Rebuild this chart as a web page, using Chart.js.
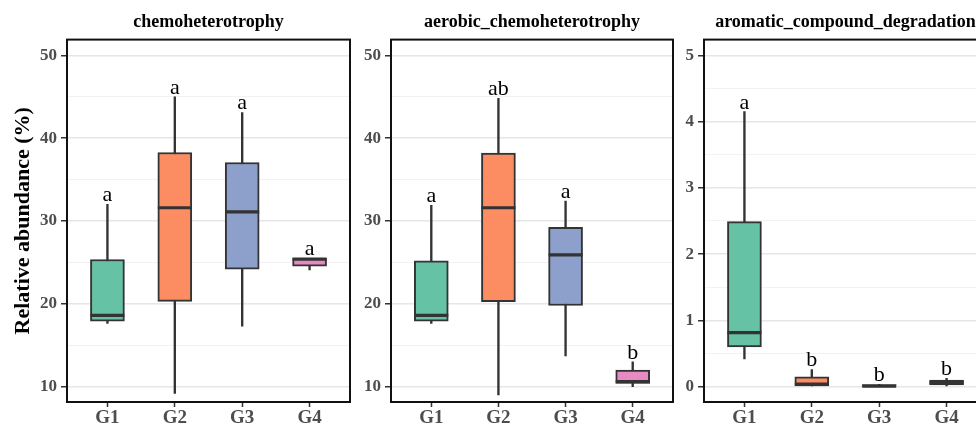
<!DOCTYPE html>
<html><head><meta charset="utf-8">
<script src="https://cdn.jsdelivr.net/npm/chart.js@4.4.1/dist/chart.umd.min.js"></script>
<style>
html,body{margin:0;padding:0;background:#fff;overflow:hidden;}
#wrap{position:relative;width:976px;height:424px;overflow:hidden;background:#fff;}
canvas{position:absolute;top:0;}
</style></head><body>
<div id="wrap">
<canvas id="c1" width="352" height="424" style="left:0px"></canvas>
<canvas id="c2" width="323" height="424" style="left:352px"></canvas>
<canvas id="c3" width="314" height="424" style="left:675px"></canvas>
</div>
<script>
// ---------- data ----------
const groups = ['G1', 'G2', 'G3', 'G4'];

// chemoheterotrophy
const chemoMin = [17.65, 9.2, 17.3, 24.1];
const chemoQ1  = [17.9, 20.3, 24.2, 24.55];
const chemoMed = [18.6, 31.6, 31.1, 25.4];
const chemoQ3  = [25.35, 38.27, 37.06, 25.5];
const chemoMax = [32.0, 45.0, 43.1, 25.5];
const chemoLetters = ['a', 'a', 'a', 'a'];

// aerobic_chemoheterotrophy
const aeroMin = [17.65, 9.0, 13.7, 10.0];
const aeroQ1  = [17.9, 20.27, 19.8, 10.4];
const aeroMed = [18.6, 31.6, 25.9, 10.6];
const aeroQ3  = [25.2, 38.2, 29.25, 12.0];
const aeroMax = [31.9, 44.8, 32.4, 13.0];
const aeroLetters = ['a', 'ab', 'a', 'b'];

// aromatic_compound_degradation
const aromMin = [0.42, 0.0, 0.0, 0.01];
const aromQ1  = [0.60, 0.0, 0.0, 0.025];
const aromMed = [0.816, 0.04, 0.01, 0.06];
const aromQ3  = [2.49, 0.15, 0.03, 0.10];
const aromMax = [4.15, 0.26, 0.035, 0.127];
const aromLetters = ['a', 'b', 'b', 'b'];

// y tick labels (major) per panel
const chemoTicks = [10, 20, 30, 40, 50];
const aeroTicks = [10, 20, 30, 40, 50];
const aromTicks = [0, 1, 2, 3, 4, 5];

// ---------- styling ----------
const fillColors = ['#66C2A5', '#FC8D62', '#8DA0CB', '#E78AC3'];
const SERIF = '"Liberation Serif", "Times New Roman", serif';
const DARK = '#333333';

function makePanel(id, p) {
  const isMajor = v => p.majorTicks.some(m => Math.abs(m - v) < 1e-9);
  const letterPlugin = {
    id: 'letters',
    afterDatasetsDraw(chart) {
      const {ctx, scales: {x, y}} = chart;
      ctx.save();
      ctx.font = '22px ' + SERIF;
      ctx.fillStyle = '#000';
      ctx.textAlign = 'center';
      ctx.textBaseline = 'alphabetic';
      p.letters.forEach((t, i) => {
        ctx.fillText(t, x.getPixelForValue(i + 1), y.getPixelForValue(p.max[i]) - 3);
      });
      ctx.restore();
    }
  };
  const framePlugin = {
    id: 'frame',
    afterDraw(chart) {
      const {ctx, chartArea: a} = chart;
      ctx.save();
      ctx.strokeStyle = '#111';
      ctx.lineWidth = 2;
      ctx.strokeRect(a.left, a.top, a.right - a.left, a.bottom - a.top);
      ctx.restore();
    }
  };
  return new Chart(document.getElementById(id), {
    type: 'bar',
    data: {
      datasets: [
        {
          type: 'scatter',
          data: groups.map((g, i) => ({x: i + 1, y: p.med[i]})),
          pointStyle: 'line',
          pointRadius: 17,
          pointHoverRadius: 17,
          pointBorderWidth: 3.2,
          pointBorderColor: DARK,
          pointBackgroundColor: DARK,
          order: 0
        },
        {
          type: 'bar',
          data: groups.map((g, i) => ({x: i + 1, y: [p.q1[i], p.q3[i]]})),
          backgroundColor: fillColors,
          borderColor: DARK,
          borderWidth: 2,
          borderSkipped: false,
          barThickness: 34,
          grouped: false,
          order: 1
        },
        {
          type: 'bar',
          data: groups.map((g, i) => ({x: i + 1, y: [p.min[i], p.max[i]]})),
          backgroundColor: DARK,
          borderWidth: 0,
          barThickness: 1.7,
          grouped: false,
          order: 2
        }
      ]
    },
    options: {
      responsive: false,
      animation: false,
      devicePixelRatio: 1,
      layout: {autoPadding: false, padding: {left: 0, right: 2, top: 0, bottom: 0}},
      plugins: {
        legend: {display: false},
        tooltip: {enabled: false},
        title: {
          display: true,
          text: p.title,
          fullSize: false,
          color: '#000',
          font: {family: SERIF, size: 18, weight: 'bold', lineHeight: 1.2},
          padding: {top: 12, bottom: 6}
        }
      },
      scales: {
        x: {
          type: 'linear',
          min: 0.4,
          max: 4.6,
          offset: false,
          afterBuildTicks: s => { s.ticks = groups.map((g, i) => ({value: i + 1})); },
          afterFit: s => { s.height = 22; s.paddingLeft = 0; s.paddingRight = 0; },
          ticks: {
            autoSkip: false,
            maxRotation: 0,
            padding: 0,
            color: '#4D4D4D',
            font: {family: SERIF, size: 19, weight: 'bold'},
            callback: v => groups[Math.round(v) - 1] || ''
          },
          grid: {
            offset: false,
            drawOnChartArea: false,
            drawTicks: true,
            tickLength: 5,
            tickColor: DARK,
            tickWidth: 1.5
          },
          border: {display: false}
        },
        y: {
          type: 'linear',
          min: p.yMin,
          max: p.yMax,
          beginAtZero: false,
          afterBuildTicks: s => {
            const out = [];
            for (let k = Math.ceil(p.yMin / p.step); k * p.step <= p.yMax + 1e-9; k++) {
              out.push({value: Math.round(k * p.step * 1000) / 1000});
            }
            s.ticks = out;
          },
          afterFit: s => { s.width = p.yWidth; s.paddingTop = 0; s.paddingBottom = 0; },
          ticks: {
            stepSize: p.step,
            autoSkip: false,
            padding: 4,
            color: '#4D4D4D',
            font: {family: SERIF, size: 17, weight: 'bold'},
            callback: v => isMajor(v) ? String(v) : ''
          },
          grid: {
            color: c => isMajor(c.tick ? c.tick.value : NaN) ? '#E6E6E6' : '#F2F2F2',
            lineWidth: c => isMajor(c.tick ? c.tick.value : NaN) ? 1.5 : 1,
            drawTicks: true,
            tickLength: 6,
            tickWidth: 1.5,
            tickColor: c => isMajor(c.tick ? c.tick.value : NaN) ? DARK : 'rgba(0,0,0,0)'
          },
          border: {display: false},
          title: {
            display: !!p.yTitle,
            text: p.yTitle || '',
            color: '#000',
            font: {family: SERIF, size: 22, weight: 'bold', lineHeight: 1.2},
            padding: {top: 10, bottom: 0}
          }
        }
      }
    },
    plugins: [letterPlugin, framePlugin]
  });
}

makePanel('c1', {
  title: 'chemoheterotrophy', yTitle: 'Relative abundance (%)', yWidth: 67,
  yMin: 8.15, yMax: 51.9, step: 5, majorTicks: chemoTicks,
  min: chemoMin, q1: chemoQ1, med: chemoMed, q3: chemoQ3, max: chemoMax, letters: chemoLetters
});
makePanel('c2', {
  title: 'aerobic_chemoheterotrophy', yTitle: null, yWidth: 39,
  yMin: 8.15, yMax: 51.9, step: 5, majorTicks: aeroTicks,
  min: aeroMin, q1: aeroQ1, med: aeroMed, q3: aeroQ3, max: aeroMax, letters: aeroLetters
});
makePanel('c3', {
  title: 'aromatic_compound_degradation', yTitle: null, yWidth: 29,
  yMin: -0.231, yMax: 5.237, step: 0.5, majorTicks: aromTicks,
  min: aromMin, q1: aromQ1, med: aromMed, q3: aromQ3, max: aromMax, letters: aromLetters
});
</script>
</body></html>
